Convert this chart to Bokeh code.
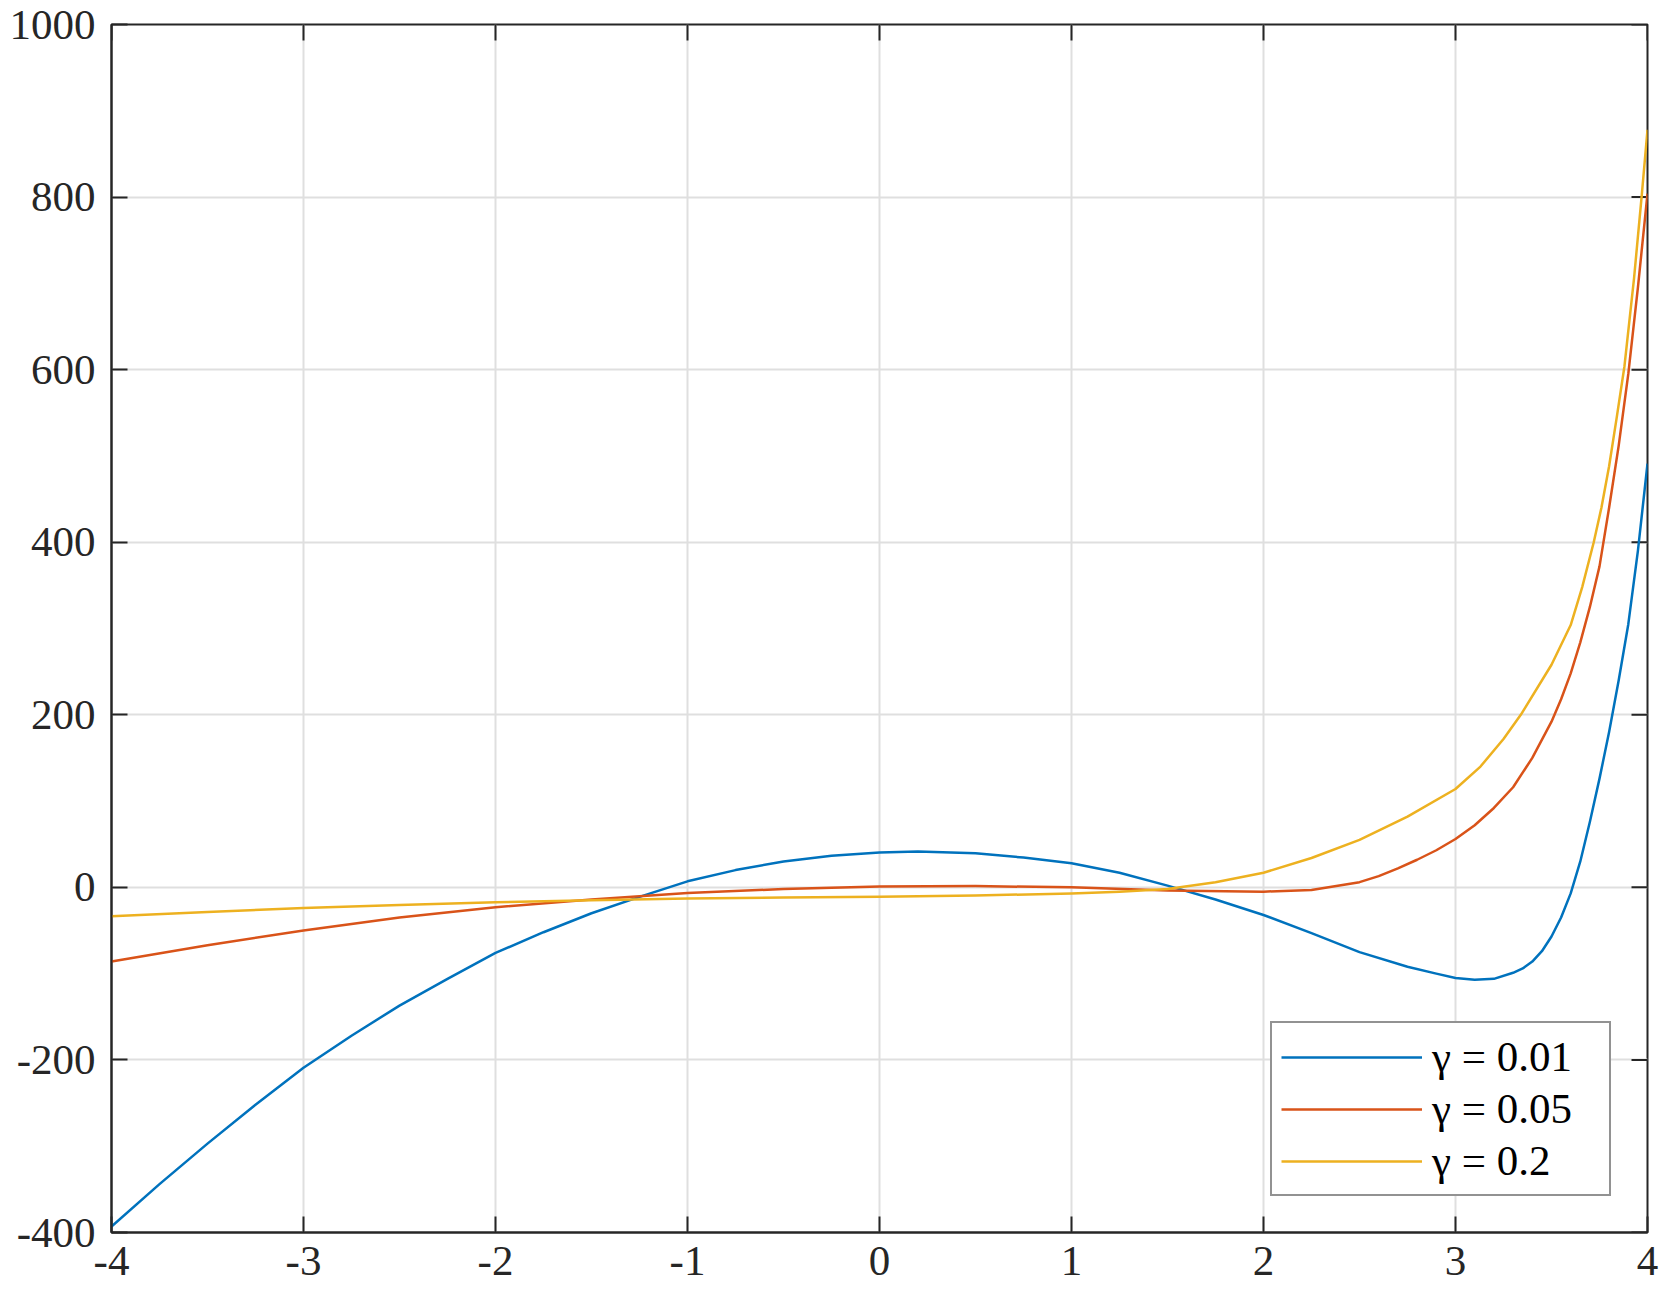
import math
from bokeh.plotting import figure
from bokeh.models import Legend, LegendItem, FixedTicker, Range1d
from bokeh.embed import file_html
from bokeh.resources import INLINE

# ---- data ----
x_g001 = [-4, -3.75, -3.5, -3.25, -3, -2.75, -2.5, -2.25, -2, -1.75, -1.5, -1.25, -1, -0.75,
          -0.5, -0.25, 0, 0.2, 0.5, 0.75, 1, 1.25, 1.5, 1.75, 2, 2.25, 2.5, 2.75, 2.9,
          3.0, 3.1, 3.2, 3.3, 3.35, 3.4, 3.45, 3.5, 3.55, 3.6, 3.65, 3.7, 3.75, 3.8, 3.85,
          3.9, 3.95, 4.0]
y_g001 = [-393, -344, -297, -252, -209, -172, -137, -106, -76, -52, -30, -11, 7, 20,
          30, 36.5, 40.5, 41.6, 39.5, 34.5, 28, 17, 2, -14, -32, -53, -75, -92, -100,
          -105, -107, -106, -99, -94, -86, -74, -57, -35, -7, 30, 76, 126, 180, 240,
          305, 390, 491]

x_g005 = [-4, -3.5, -3, -2.5, -2, -1.5, -1, -0.5, 0, 0.5, 1, 1.5, 2, 2.25, 2.5, 2.6, 2.7,
          2.8, 2.9, 3.0, 3.1, 3.2, 3.3, 3.4, 3.5, 3.55, 3.6, 3.65, 3.7, 3.75, 3.8, 3.85,
          3.9, 3.95, 4.0]
y_g005 = [-86, -67, -50, -35, -23, -14, -6.5, -2, 1, 1.5, 0, -3.5, -5, -3, 6, 13, 22,
          32, 43, 56, 72, 92, 116, 150, 192, 218, 248, 284, 325, 372, 440, 512,
          595, 695, 804]

x_g02 = [-4, -3.5, -3, -2.5, -2, -1.5, -1, -0.5, 0, 0.5, 1, 1.25, 1.5, 1.75, 2, 2.25, 2.5,
         2.75, 3.0, 3.13, 3.25, 3.34, 3.5, 3.6, 3.66, 3.72, 3.76, 3.8, 3.84, 3.88, 3.93,
         3.97, 4.0]
y_g02 = [-33.5, -28.5, -24, -20.5, -17.3, -15, -13, -11.8, -10.8, -9.5, -7, -5, -2, 6, 17, 34, 55,
         82, 114, 140, 172, 200, 258, 304, 348, 400, 440, 488, 545, 604, 706,
         802, 878]

series_labels = ["γ = 0.01", "γ = 0.05", "γ = 0.2"]
series_colors = ["#0072BD", "#D95319", "#EDB120"]

x_ticks = [-4, -3, -2, -1, 0, 1, 2, 3, 4]
x_tick_labels = ["-4", "-3", "-2", "-1", "0", "1", "2", "3", "4"]
y_ticks = [-400, -200, 0, 200, 400, 600, 800, 1000]
y_tick_labels = ["-400", "-200", "0", "200", "400", "600", "800", "1000"]

FONT = "Liberation Serif"
AX = "#262626"

p = figure(width=1660, height=1296, x_range=Range1d(x_ticks[0], x_ticks[-1]),
           y_range=Range1d(y_ticks[0], y_ticks[-1]),
           output_backend="svg", toolbar_location=None,
           min_border_left=111, min_border_top=24, min_border_right=13, min_border_bottom=64)
p.outline_line_color = AX
p.outline_line_width = 2
p.background_fill_color = "white"
p.border_fill_color = "white"


def style_axis(ax, ticks, labels, standoff):
    ax.ticker = FixedTicker(ticks=ticks)
    ax.major_label_overrides = {t: l for t, l in zip(ticks, labels)}
    ax.major_tick_in = 16
    ax.major_tick_out = 0
    ax.minor_tick_in = 0
    ax.minor_tick_out = 0
    ax.major_tick_line_color = AX
    ax.major_tick_line_width = 2
    ax.axis_line_color = AX
    ax.axis_line_width = 2
    ax.major_label_text_font = FONT
    ax.major_label_text_font_size = "43px"
    ax.major_label_text_color = AX
    ax.major_label_standoff = standoff


style_axis(p.xaxis[0], x_ticks, x_tick_labels, 14)
style_axis(p.yaxis[0], y_ticks, y_tick_labels, 16)

# inward ticks on the top and right edges of the box (clipped to the frame)
p.scatter(x=x_ticks, y=[y_ticks[-1]] * len(x_ticks), marker="dash", size=32,
          angle=math.pi / 2, line_color=AX, line_width=2)
p.scatter(x=[x_ticks[-1]] * len(y_ticks), y=y_ticks, marker="dash", size=32,
          line_color=AX, line_width=2)

p.xgrid.ticker = FixedTicker(ticks=x_ticks)
p.ygrid.ticker = FixedTicker(ticks=y_ticks)
for g in (p.xgrid[0], p.ygrid[0]):
    g.grid_line_color = "#dfdfdf"
    g.grid_line_width = 2

renderers = []
for xs, ys, c in zip([x_g001, x_g005, x_g02], [y_g001, y_g005, y_g02], series_colors):
    r = p.line(xs, ys, line_color=c, line_width=2.5, line_join="round")
    renderers.append(r)

legend = Legend(items=[LegendItem(label=l, renderers=[r]) for l, r in zip(series_labels, renderers)],
                location="bottom_right")
legend.label_text_font = FONT
legend.label_text_font_size = "43px"
legend.label_text_color = "black"
legend.glyph_width = 141
legend.glyph_height = 40
legend.label_height = 40
legend.label_width = 168
legend.spacing = 3
legend.padding = 9
legend.label_standoff = 10
legend.margin = 36
legend.border_line_color = AX
legend.border_line_width = 2
legend.background_fill_color = "white"
legend.background_fill_alpha = 1
p.add_layout(legend)

open("out.html", "w").write(file_html(p, INLINE))
